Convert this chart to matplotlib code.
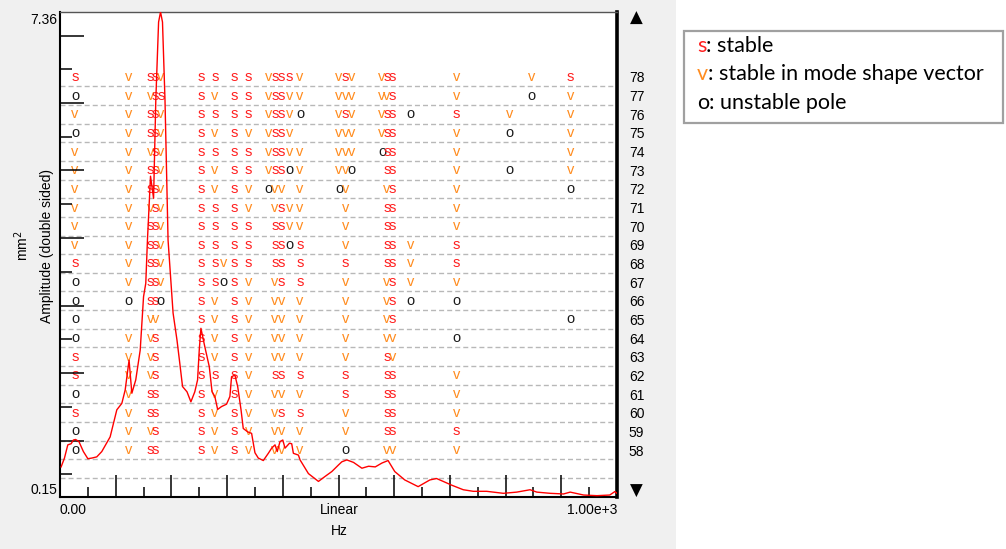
import matplotlib
matplotlib.use('Agg')
import matplotlib.pyplot as plt
from matplotlib.patches import Rectangle
from matplotlib.ticker import FixedLocator, NullFormatter
from matplotlib.text import Annotation
import matplotlib.transforms as mtransforms

plt.rcParams['font.family'] = ['Liberation Sans', 'DejaVu Sans']

# ---------------- data ----------------
freq_hz = [2, 8, 14, 20, 24, 28, 34, 42, 50, 57, 66, 75, 90, 102, 111, 117, 124, 129, 136, 144,
           150, 154, 157, 162.5, 168, 172, 177, 180.5, 184, 188.5, 194, 203, 210, 215, 220, 228,
           235, 242, 247, 250, 253, 260, 268, 273, 278, 283, 290, 299, 305, 308, 314, 319, 325,
           329, 337, 344, 350, 356, 365, 374, 380, 386, 390, 395, 400, 404, 412, 416, 419, 428,
           431, 446, 464, 476, 488, 500, 506, 515, 527, 542, 554, 566, 578, 589, 601, 619, 643,
           664, 676, 688, 703, 724, 742, 766, 796, 820, 844, 856, 880, 904, 916, 940, 964, 987,
           996, 1000]
amplitude = [0.191, 0.205, 0.228, 0.230, 0.237, 0.238, 0.234, 0.216, 0.204, 0.205, 0.207, 0.216,
             0.243, 0.302, 0.318, 0.354, 0.450, 0.345, 0.384, 0.488, 0.749, 0.834, 1.18, 1.97,
             1.65, 3.63, 6.79, 7.36, 6.79, 3.63, 1.18, 0.657, 0.529, 0.440, 0.364, 0.349, 0.322,
             0.349, 0.384, 0.488, 0.581, 0.501, 0.427, 0.349, 0.336, 0.303, 0.310, 0.316, 0.336,
             0.394, 0.399, 0.364, 0.302, 0.260, 0.253, 0.250, 0.214, 0.205, 0.201, 0.213, 0.222,
             0.228, 0.216, 0.234, 0.237, 0.222, 0.231, 0.230, 0.213, 0.210, 0.202, 0.181, 0.170,
             0.177, 0.184, 0.194, 0.199, 0.202, 0.198, 0.189, 0.192, 0.191, 0.197, 0.201, 0.184,
             0.172, 0.163, 0.172, 0.174, 0.170, 0.165, 0.159, 0.157, 0.157, 0.1545, 0.156, 0.159,
             0.156, 0.1545, 0.1537, 0.156, 0.1524, 0.1516, 0.1524, 0.1566, 0.1545]

# pole frequency columns (Hz) and, per model order, a status code per column
pole_freqs = [27, 123, 162, 171, 181, 253, 278, 293, 313, 338, 374, 386, 398, 412, 431,
              501, 513, 524, 578, 587, 597, 629, 712, 807, 847, 916]
model_orders = [78, 77, 76, 75, 74, 73, 72, 71, 70, 69, 68, 67, 66, 65, 64, 63, 62, 61, 60, 59, 58]
pole_rows = [
    "svssvss ssvsssvvsvvss v vs",  # 78
    "ovvsssv ssvssvvvvvvvs v ov",  # 77
    "vvssvss ssvssvovsvvssosv v",  # 76
    "ovssvsv svvssv vvvvss vo v",  # 75
    "vvvsvss ssvssvvvvvoss v  v",  # 74
    "vvssvsv ssvssovvvo ss vo v",  # 73
    "vvssvsv svovv vov  vs v  o",  # 72
    "vvvsvss sv vsvv v  ss v   ",  # 71
    "vvssvss ss ssvv v  ss v   ",  # 70
    "vvssvss ss ssos v  ssvs   ",  # 69
    "svssvssvss ss s s  ssvs   ",  # 68
    "ovssvssosv vs s v  vsvv   ",  # 67
    "oossosv sv vv v v  vsoo   ",  # 66
    "o vv sv sv vv v v  vs    o",  # 65
    "ovvs sv sv vv v v  vv o   ",  # 64
    "svvs sv sv vv v v  sv     ",  # 63
    "svvs ss sv ss s s  ss v   ",  # 62
    "ovss sv sv vv v s  ss v   ",  # 61
    "svss sv sv vs s v  ss v   ",  # 60
    "ovvs sv sv vv v v  ss s   ",  # 59
    "ovss sv sv vv v o  vv v   ",  # 58
]
legend_items = [('s', ': stable'), ('v', ': stable in mode shape vector'), ('o', ': unstable pole')]
x_tick_text = ['0.00', 'Linear', '1.00e+3']
amp_limits = [0.15, 7.36]

code_colors = {'s': '#ff2020', 'v': '#ff8c1f', 'o': '#1a1a1a'}

# ---------------- figure ----------------
W, H = 1006, 549
fig = plt.figure(figsize=(W / 100, H / 100), dpi=100)
fig.patch.set_facecolor('white')
fig.patches.append(Rectangle((0, 0), 676 / W, 1, transform=fig.transFigure,
                             facecolor='#f0f0f0', edgecolor='none', zorder=-10))

px_l, px_r, px_t, px_b = 60, 617, 12, 497
ax = fig.add_axes([px_l / W, 1 - px_b / H, (px_r - px_l) / W, (px_b - px_t) / H])
ax.set_zorder(2)
ax.set_facecolor('white')
ax.set_xlim(0, 1000)
ax.set_ylim(55.48, 81.485)

# spectrum on a log twin axis (created first, ticks fixed afterwards)
axs = ax.twinx()
axs.set_zorder(3)
axs.patch.set_visible(False)

# dashed separators between model orders
for o in model_orders + [model_orders[-1] - 1]:
    ax.axhline(o - 0.5, color='#b8b8b8', lw=1.0, ls=(0, (3.6, 2.2)), zorder=1)

# pole letters
letter_tr = mtransforms.offset_copy(ax.transData, fig=fig, x=0, y=-4, units='dots')
for order, row in zip(model_orders, pole_rows):
    for f, c in zip(pole_freqs, row):
        if c != ' ':
            ax.text(f, order, c, color=code_colors[c], fontsize=10.5, ha='center',
                    va='baseline', transform=letter_tr, zorder=2)

# right-hand order labels
ax.set_yticks(model_orders)
ax.set_yticklabels([str(o) for o in model_orders])
ax.yaxis.tick_right()
ax.tick_params(axis='y', length=0, pad=8.5, labelsize=10, colors='black',
               left=False, labelleft=False, right=True, labelright=True)

# bottom ticks
ax.xaxis.set_major_locator(FixedLocator(list(range(100, 1000, 100))))
ax.xaxis.set_minor_locator(FixedLocator(list(range(50, 1000, 100))))
ax.tick_params(axis='x', which='major', direction='in', length=15.8, width=1.1,
               labelbottom=False, color='black')
ax.tick_params(axis='x', which='minor', direction='in', length=7.2, width=1.1, color='black')

for side, lw, col in [('left', 1.5, 'black'), ('bottom', 1.5, 'black'),
                      ('right', 2.6, 'black'), ('top', 1.0, '#555555')]:
    ax.spines[side].set_linewidth(lw)
    ax.spines[side].set_color(col)

axs.set_yscale('log')
axs.set_ylim(*amp_limits)
axs.set_xlim(0, 1000)
axs.plot(freq_hz, amplitude, color='#ff0000', lw=1.0, zorder=3)
axs.yaxis.tick_left()
ratio = amp_limits[1] / amp_limits[0]
maj_px = [35.5 + 67.5 * k for k in range(7)]
min_px = [69.3 + 67.5 * k for k in range(7)]
axs.yaxis.set_major_locator(FixedLocator([amp_limits[0] * ratio ** ((px_b - p) / (px_b - px_t)) for p in maj_px]))
axs.yaxis.set_minor_locator(FixedLocator([amp_limits[0] * ratio ** ((px_b - p) / (px_b - px_t)) for p in min_px]))
axs.yaxis.set_major_formatter(NullFormatter())
axs.yaxis.set_minor_formatter(NullFormatter())
axs.tick_params(axis='y', which='major', direction='in', length=17.3, width=1.1, color='black',
                left=True, right=False, labelleft=False, labelright=False)
axs.tick_params(axis='y', which='minor', direction='in', length=8.6, width=1.1, color='black',
                left=True, right=False, labelleft=False, labelright=False)
for s in axs.spines.values():
    s.set_visible(False)

# axis texts
fs = 10
fig.text(px_l / W, 1 - 510 / H, x_tick_text[0], ha='left', va='center', fontsize=fs)
fig.text(339 / W, 1 - 510 / H, x_tick_text[1], ha='center', va='center', fontsize=fs)
fig.text(px_r / W, 1 - 510 / H, x_tick_text[2], ha='right', va='center', fontsize=fs)
fig.text(339 / W, 1 - 531 / H, 'Hz', ha='center', va='center', fontsize=fs)
fig.text(57 / W, 1 - 20 / H, f'{amp_limits[1]:.2f}', ha='right', va='center', fontsize=fs)
fig.text(57 / W, 1 - 490 / H, f'{amp_limits[0]:.2f}', ha='right', va='center', fontsize=fs)
fig.text(47 / W, 1 - 246 / H, 'Amplitude (double sided)', rotation=90, ha='center',
         va='center', fontsize=fs)
fig.text(22 / W, 1 - 246 / H, 'mm$^2$', rotation=90, ha='center', va='center', fontsize=fs)
fig.text(636 / W, 1 - 18 / H, '\u25B2', ha='center', va='center', fontsize=12,
         family='DejaVu Sans')
fig.text(636 / W, 1 - 491 / H, '\u25BC', ha='center', va='center', fontsize=12,
         family='DejaVu Sans')

# legend box
fig.patches.append(Rectangle((684 / W, 1 - 123 / H), (1003 - 684) / W, (123 - 31) / H,
                             transform=fig.transFigure, facecolor='white',
                             edgecolor='#a0a0a0', lw=1.6, zorder=1))
leg_font = ['Lato', 'DejaVu Sans']
leg_fs = 15.5
for i, (code, desc) in enumerate(legend_items):
    y = 1 - (46 + 28.5 * i) / H
    t = fig.text(697 / W, y, code, color=code_colors[code] if code != 'o' else 'black',
                 fontsize=leg_fs, family=leg_font, ha='left', va='center', zorder=3)
    fig.add_artist(Annotation(desc, xy=(1, 0), xycoords=t, va='bottom', ha='left',
                              fontsize=leg_fs, family=leg_font, color='black', zorder=3))

fig.savefig('out.png', dpi=100)
